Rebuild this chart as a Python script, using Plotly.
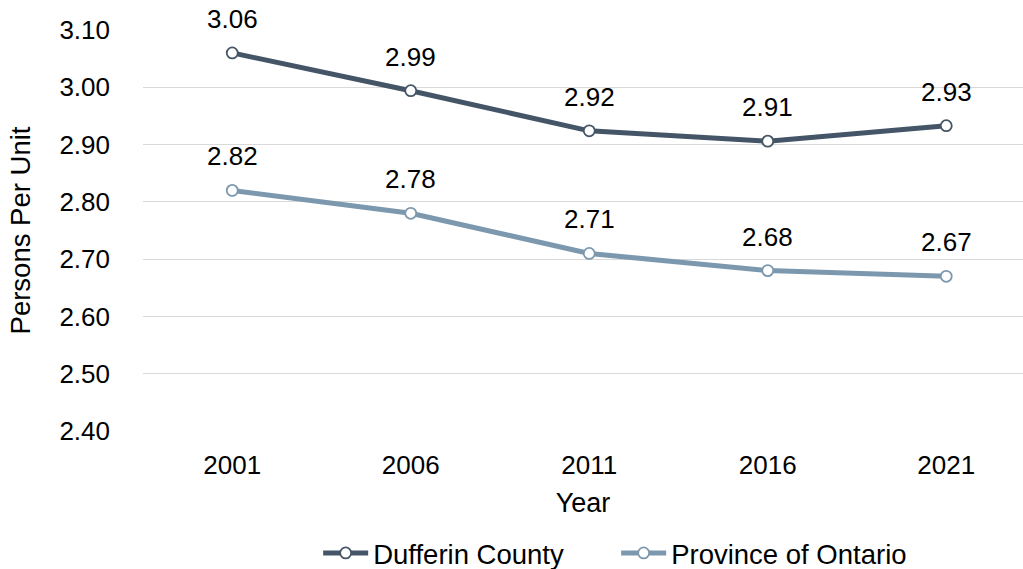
import plotly.graph_objects as go

years = [2001, 2006, 2011, 2016, 2021]
dufferin = [3.06, 2.99, 2.92, 2.91, 2.93]
# plotted positions of the county series (labels show rounded values)
dufferin_plot = [3.06, 2.994, 2.924, 2.906, 2.933]
ontario = [2.82, 2.78, 2.71, 2.68, 2.67]
y_ticks = [2.40, 2.50, 2.60, 2.70, 2.80, 2.90, 3.00, 3.10]

dark = "#445567"
light = "#7C98AE"
font_family = "Liberation Sans, Arial, sans-serif"

fig = go.Figure()
fig.add_trace(go.Scatter(
    x=years, y=dufferin_plot, name="Dufferin County", mode="lines+markers",
    line=dict(color=dark, width=5),
    marker=dict(size=11, color="white", line=dict(color=dark, width=1.8)),
))
fig.add_trace(go.Scatter(
    x=years, y=ontario, name="Province of Ontario", mode="lines+markers",
    line=dict(color=light, width=5),
    marker=dict(size=11, color="white", line=dict(color=light, width=1.8)),
))

# value labels above each point
for ys, labels in [(dufferin_plot, dufferin), (ontario, ontario)]:
    for x, y, v in zip(years, ys, labels):
        fig.add_annotation(x=x, y=y, text=f"{v:.2f}", showarrow=False,
                           yshift=34, font=dict(size=26, color="#000000", family=font_family))

fig.update_layout(
    width=1023, height=569,
    margin=dict(l=143, r=0, t=30, b=138),
    paper_bgcolor="white", plot_bgcolor="white",
    font=dict(family=font_family, size=26, color="#000000"),
    showlegend=True,
    legend=dict(orientation="h", xref="container", x=0.311, xanchor="left",
                yref="container", y=0.028, yanchor="middle",
                font=dict(size=27.5), itemwidth=45, entrywidth=238,
                traceorder="normal"),
    xaxis=dict(
        range=[1998.5, 2023.15], tickvals=years, ticktext=[str(y) for y in years],
        showgrid=False, zeroline=False, showline=False, ticks="",
        tickfont=dict(size=26), ticklabelstandoff=16, automargin=False,
        title=dict(text="Year", font=dict(size=27), standoff=14),
    ),
    yaxis=dict(
        range=[2.4, 3.1], tickvals=y_ticks, ticktext=[f"{t:.2f}" for t in y_ticks],
        showgrid=True, gridcolor="#D9D9D9", gridwidth=1.3, zeroline=False,
        showline=False, ticks="", tickfont=dict(size=26), ticklabelstandoff=32,
        automargin=False,
        title=dict(text="Persons Per Unit", font=dict(size=27.5), standoff=20),
    ),
)

fig.write_html("out.html")
